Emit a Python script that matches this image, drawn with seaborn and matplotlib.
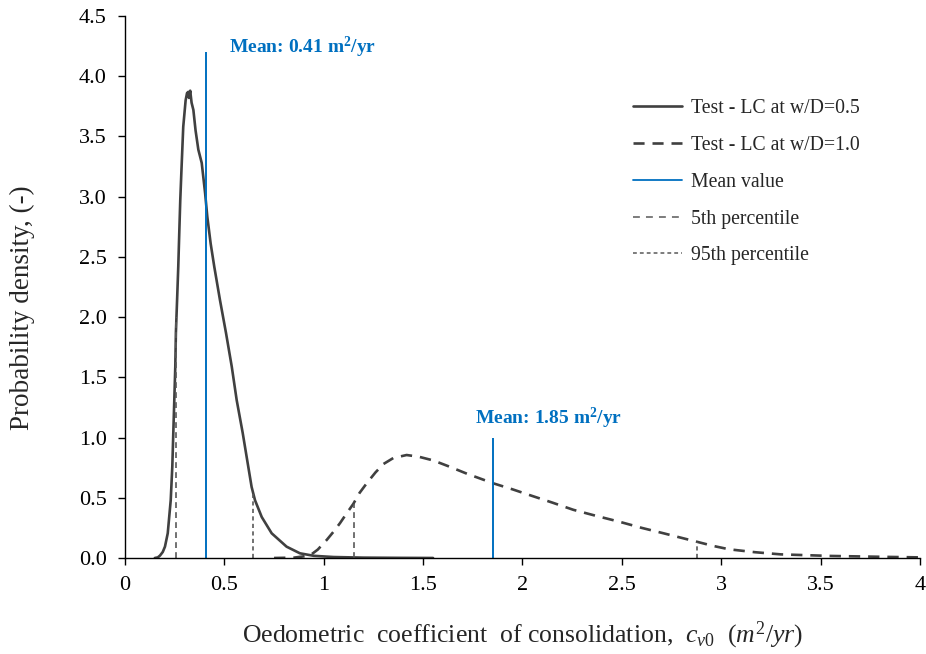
import matplotlib
matplotlib.use("Agg")
import matplotlib.pyplot as plt
from matplotlib.lines import Line2D
import seaborn as sns

# curve for w/D = 0.5 (solid)
cv_05 = [0.15, 0.165, 0.176, 0.19, 0.201, 0.215, 0.23, 0.238, 0.243, 0.248,
         0.253, 0.256, 0.262, 0.268, 0.273, 0.278, 0.284, 0.293, 0.305, 0.312,
         0.318, 0.322, 0.328, 0.335, 0.344, 0.355, 0.369, 0.386, 0.403, 0.414,
         0.431, 0.449, 0.478, 0.508, 0.537, 0.562, 0.592, 0.62, 0.637, 0.654,
         0.688, 0.738, 0.813, 0.88, 0.95, 1.05, 1.2, 1.4, 1.55]
pdf_05 = [0.0, 0.005, 0.02, 0.05, 0.094, 0.205, 0.48, 0.76, 1.04, 1.31,
          1.59, 1.87, 2.14, 2.42, 2.70, 2.97, 3.22, 3.58, 3.80, 3.86,
          3.87, 3.82, 3.88, 3.78, 3.72, 3.55, 3.39, 3.28, 3.03, 2.835,
          2.61, 2.42, 2.14, 1.87, 1.59, 1.31, 1.04, 0.76, 0.59, 0.48,
          0.34, 0.205, 0.094, 0.039, 0.018, 0.008, 0.003, 0.001, 0.0]

# curve for w/D = 1.0 (dashed)
cv_10 = [0.75, 0.85, 0.93, 0.97, 1.015, 1.05, 1.082, 1.115, 1.149, 1.18, 1.216,
         1.26, 1.30, 1.35, 1.417, 1.48, 1.551, 1.63, 1.72, 1.853, 1.95, 2.04,
         2.15, 2.256, 2.37, 2.49, 2.60, 2.71, 2.877, 2.96, 3.04, 3.17, 3.30,
         3.55, 3.80, 4.0]
pdf_10 = [0.0, 0.003, 0.02, 0.07, 0.15, 0.22, 0.29, 0.37, 0.45, 0.54, 0.62,
          0.71, 0.78, 0.83, 0.855, 0.84, 0.81, 0.76, 0.70, 0.62, 0.57, 0.52,
          0.46, 0.40, 0.35, 0.30, 0.25, 0.205, 0.135, 0.10, 0.072, 0.048, 0.03,
          0.017, 0.01, 0.005]

mean_x = [0.41, 1.85]
mean_top = [4.2, 1.0]
mean_labels = ["Mean: 0.41 m$^\\mathbf{2}$/yr", "Mean: 1.85 m$^\\mathbf{2}$/yr"]
p5_x = [0.258, 1.15]
p5_top = [2.0, 0.45]
p95_x = [0.642, 2.877]
p95_top = [0.56, 0.135]

x_ticks = [0, 0.5, 1, 1.5, 2, 2.5, 3, 3.5, 4]
x_tick_labels = ["0", "0.5", "1", "1.5", "2", "2.5", "3", "3.5", "4"]
y_ticks = [0.0, 0.5, 1.0, 1.5, 2.0, 2.5, 3.0, 3.5, 4.0, 4.5]

sns.set_style("ticks")
plt.rcParams['font.family'] = ['Liberation Serif', 'DejaVu Serif']
plt.rcParams['mathtext.fontset'] = 'custom'
plt.rcParams['mathtext.rm'] = 'Liberation Serif'
plt.rcParams['mathtext.it'] = 'Liberation Serif:italic'
plt.rcParams['mathtext.bf'] = 'Liberation Serif:bold'

curve_col = "#404040"
blue = "#0070C0"
pct_col = "#595959"

fig, ax = plt.subplots(figsize=(9.26, 6.54), dpi=100)
fig.subplots_adjust(left=0.135, right=0.9935, top=0.9755, bottom=0.1468)

sns.lineplot(x=cv_05, y=pdf_05, ax=ax, color=curve_col, linewidth=1.9,
             estimator=None, sort=False)
sns.lineplot(x=cv_10, y=pdf_10, ax=ax, color=curve_col, linewidth=1.9,
             linestyle=(0, (4.3, 3)), estimator=None, sort=False)

ax.vlines(mean_x, 0, mean_top, color=blue, linewidth=1.4)
ax.vlines(p5_x, 0, p5_top, color=pct_col, linewidth=1.2, linestyles=[(0, (3.5, 2.5))])
ax.vlines(p95_x, 0, p95_top, color=pct_col, linewidth=1.2, linestyles=[(0, (2.5, 2))])

ax.text(0.525, 4.24, mean_labels[0], color=blue, fontsize=14, fontweight='bold',
        ha='left', va='center')
ax.text(1.76, 1.16, mean_labels[1], color=blue, fontsize=14, fontweight='bold',
        ha='left', va='center')

ax.set_xlim(0, 4)
ax.set_ylim(0, 4.5)
ax.set_xticks(x_ticks)
ax.set_xticklabels(x_tick_labels)
ax.set_yticks(y_ticks)
ax.set_yticklabels([f"{v:.1f}" for v in y_ticks])
ax.tick_params(axis='both', direction='out', length=5, width=1, labelsize=16,
               color='black', labelcolor='black')
ax.tick_params(axis='x', pad=8)
ax.tick_params(axis='y', pad=8)
for s in ['left', 'bottom']:
    ax.spines[s].set_color('black')
    ax.spines[s].set_linewidth(1)
sns.despine(ax=ax)

ax.set_xlabel("Oedometric  coefficient  of consolidation,  $c_{\\mathit{v0}}$  $\\mathit{(m^2/yr)}$",
              fontsize=18.5, labelpad=18)
ax.set_ylabel("Probability density, (-)", fontsize=19.5)
ax.yaxis.set_label_coords(-0.113, 0.461)

handles = [
    Line2D([], [], color=curve_col, linewidth=1.9),
    Line2D([], [], color=curve_col, linewidth=1.9, linestyle=(0, (4.2, 3))),
    Line2D([], [], color=blue, linewidth=1.3),
    Line2D([], [], color=pct_col, linewidth=1.1, linestyle=(0, (4.5, 4))),
    Line2D([], [], color=pct_col, linewidth=1.1, linestyle=(0, (2.5, 2))),
]
labels = ["Test - LC at w/D=0.5", "Test - LC at w/D=1.0", "Mean value",
          "5th percentile", "95th percentile"]
ax.legend(handles, labels, loc='upper left', bbox_to_anchor=(0.617, 0.879),
          frameon=False, fontsize=14.2, labelspacing=0.9, handlelength=2.45,
          handletextpad=0.5)

fig.savefig("out.png", dpi=100)
